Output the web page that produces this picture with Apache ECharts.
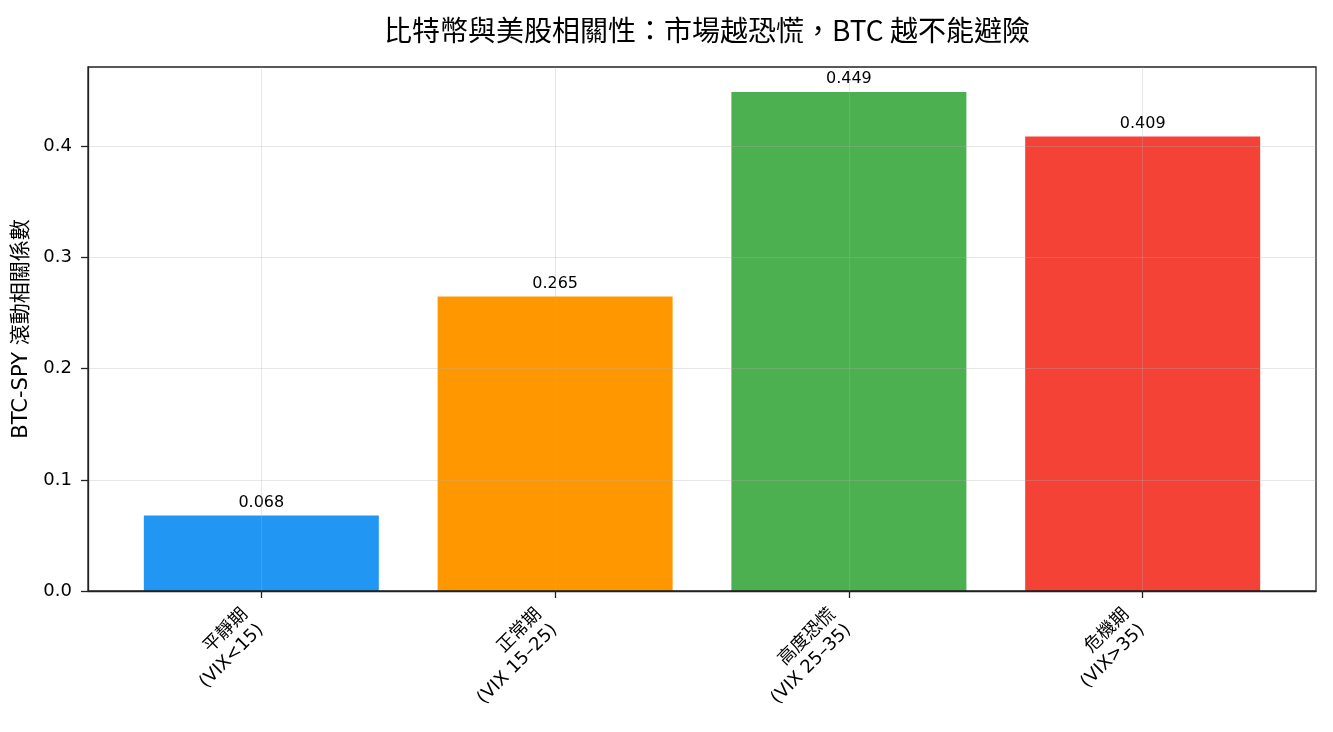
<!DOCTYPE html>
<html>
<head>
<meta http-equiv="Content-Type" content="text/html; charset=utf-8" />
<title>比特幣與美股相關性</title>
<script type="text/javascript" charset="utf-8" src="https://cdn.jsdelivr.net/npm/echarts@6/dist/echarts.min.js"></script>
<style>
  html, body { margin: 0; padding: 0; background: #fff; }
</style>
</head>
<body>
<div id="echarts" style="width:1333px;height:732px;"></div>
<script>
  // 數據
  var categories = ['平靜期\n(VIX<15)', '正常期\n(VIX 15–25)', '高度恐慌\n(VIX 25–35)', '危機期\n(VIX>35)'];
  var corrValues = [0.068, 0.265, 0.449, 0.409];
  var barColors = ['#2196F3', '#FF9800', '#4CAF50', '#F44336'];
  var yTicks = [0.0, 0.1, 0.2, 0.3, 0.4];

  var fontMain = "'DejaVu Sans', 'Noto Sans CJK TC', sans-serif";
  var gridColor = 'rgba(176,176,176,0.3)';
  var positions = categories.map(function(c, i) { return i; });

  var myChart = echarts.init(document.getElementById('echarts'));

  var option = {
    animation: false,
    title: {
      text: '比特幣與美股相關性：市場越恐慌，BTC 越不能避險',
      left: 702,
      textAlign: 'center',
      top: 11,
      textStyle: { fontFamily: "'Noto Sans CJK TC', sans-serif", fontSize: 28, fontWeight: 'normal', color: '#000' }
    },
    grid: {
      left: 88,
      right: 17,
      top: 67,
      bottom: 141,
      show: true,
      borderColor: '#222',
      borderWidth: 1.3,
      backgroundColor: 'transparent'
    },
    xAxis: {
      type: 'value',
      min: -0.59,
      max: 3.59,
      z: 5,
      axisLine: { show: true, onZero: false, lineStyle: { color: '#222', width: 1.3 } },
      axisTick: { show: true, customValues: positions, length: 7, lineStyle: { color: '#222', width: 1.3 } },
      axisLabel: {
        customValues: positions,
        rotate: 45,
        margin: 20,
        padding: [0, 12, 0, 0],
        fontSize: 18,
        lineHeight: 22,
        color: '#000',
        fontFamily: fontMain,
        formatter: function(v) { return categories[Math.round(v)]; }
      },
      splitLine: { show: true, lineStyle: { color: gridColor, width: 1 } }
    },
    yAxis: {
      type: 'value',
      min: 0,
      max: 0.4715,
      interval: 0.1,
      z: 5,
      name: 'BTC-SPY 滾動相關係數',
      nameLocation: 'middle',
      nameGap: 50,
      nameTextStyle: { fontFamily: fontMain, fontSize: 21, color: '#000' },
      axisLine: { show: true, onZero: false, lineStyle: { color: '#222', width: 1.3 } },
      axisTick: { show: true, length: 7, lineStyle: { color: '#222', width: 1.3 } },
      axisLabel: {
        showMaxLabel: false,
        fontSize: 18,
        margin: 16,
        color: '#000',
        fontFamily: fontMain,
        formatter: function(v) { return v.toFixed(1); }
      },
      splitLine: { show: true, showMaxLine: false, lineStyle: { color: gridColor, width: 1 } }
    },
    series: [
      {
        type: 'bar',
        z: -1,
        barWidth: 235,
        data: corrValues.map(function(v, i) {
          return { value: [i, v], itemStyle: { color: barColors[i] } };
        }),
        label: {
          show: true,
          position: 'top',
          distance: 5,
          fontSize: 16,
          color: '#000',
          fontFamily: fontMain,
          formatter: function(p) { return p.value[1].toFixed(3); }
        }
      }
    ]
  };

  myChart.setOption(option);
</script>
</body>
</html>
